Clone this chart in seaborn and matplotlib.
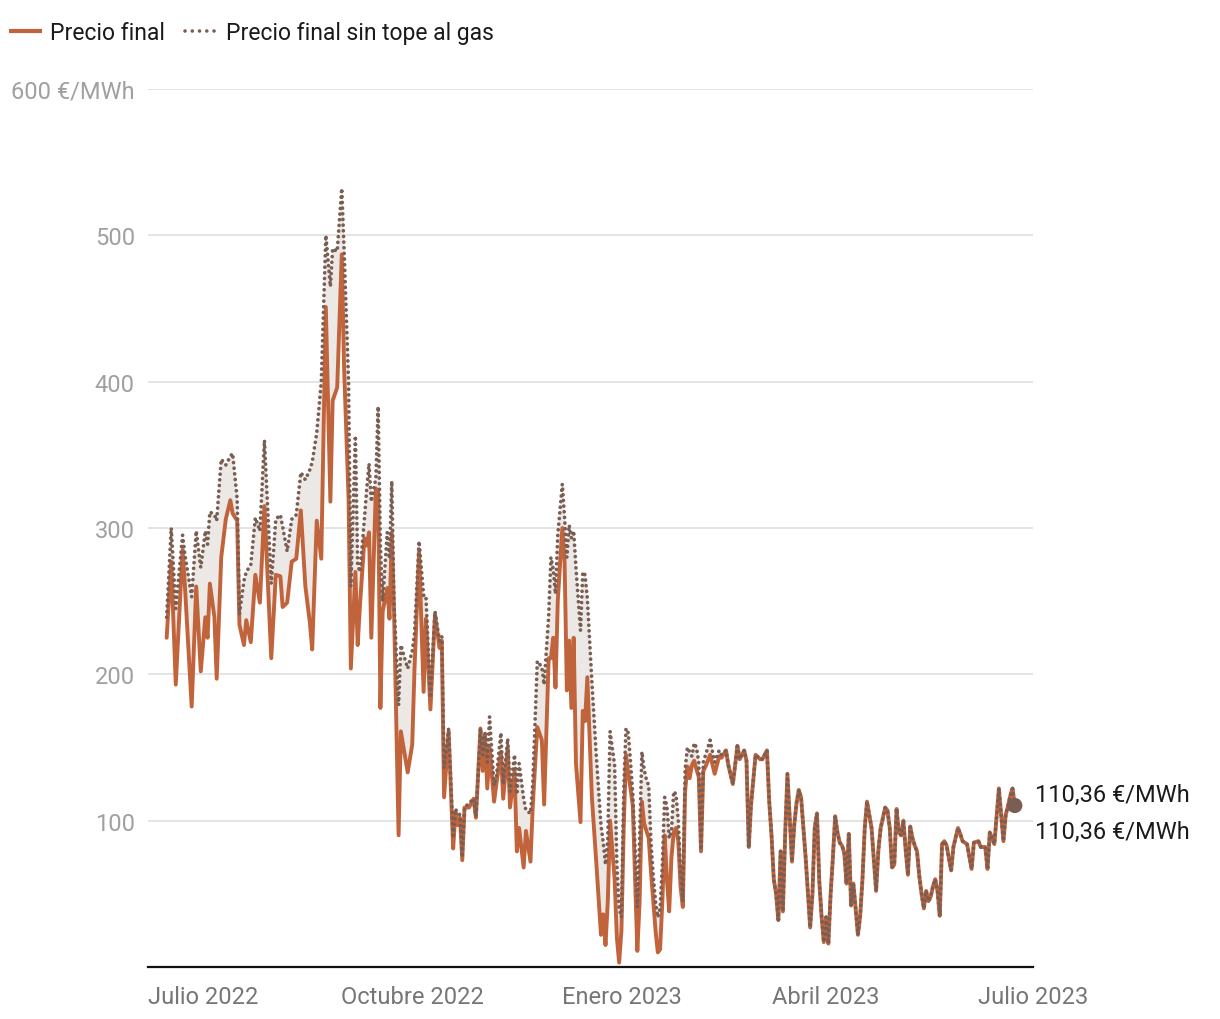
import pandas as pd
import matplotlib.pyplot as plt
import seaborn as sns
from matplotlib.lines import Line2D

# Fechas de cada punto (precio diario)
fechas = [
    # jun 2022
    "2022-06-15", "2022-06-17", "2022-06-19", "2022-06-22", "2022-06-23", "2022-06-26", "2022-06-28", "2022-06-30",
    # jul 2022
    "2022-07-02", "2022-07-03", "2022-07-04", "2022-07-06", "2022-07-07", "2022-07-09", "2022-07-11", "2022-07-13",
    "2022-07-14", "2022-07-16", "2022-07-17", "2022-07-19", "2022-07-20", "2022-07-22", "2022-07-24", "2022-07-26",
    "2022-07-28", "2022-07-31",
    # ago 2022
    "2022-08-02", "2022-08-04", "2022-08-05", "2022-08-07", "2022-08-09", "2022-08-11", "2022-08-13", "2022-08-15",
    "2022-08-17", "2022-08-18", "2022-08-20", "2022-08-22", "2022-08-24", "2022-08-26", "2022-08-27", "2022-08-29",
    "2022-08-31",
    # sep 2022
    "2022-09-01", "2022-09-03", "2022-09-04", "2022-09-06", "2022-09-07", "2022-09-08", "2022-09-10", "2022-09-11",
    "2022-09-12", "2022-09-13", "2022-09-15", "2022-09-16", "2022-09-17", "2022-09-18", "2022-09-20", "2022-09-21",
    "2022-09-22", "2022-09-23", "2022-09-25", "2022-09-26", "2022-09-29",
    # oct 2022
    "2022-10-01", "2022-10-02", "2022-10-04", "2022-10-06", "2022-10-07", "2022-10-09", "2022-10-11", "2022-10-13",
    "2022-10-14", "2022-10-15", "2022-10-17", "2022-10-19", "2022-10-20", "2022-10-21", "2022-10-22", "2022-10-23",
    "2022-10-24", "2022-10-26", "2022-10-28", "2022-10-29", "2022-10-31",
    # nov 2022
    "2022-11-01", "2022-11-02", "2022-11-03", "2022-11-04", "2022-11-06", "2022-11-07", "2022-11-09", "2022-11-10",
    "2022-11-12", "2022-11-13", "2022-11-15", "2022-11-16", "2022-11-17", "2022-11-19", "2022-11-20", "2022-11-22",
    "2022-11-23", "2022-11-25", "2022-11-27", "2022-11-28", "2022-11-30",
    # dic 2022
    "2022-12-01", "2022-12-02", "2022-12-03", "2022-12-04", "2022-12-06", "2022-12-07", "2022-12-08", "2022-12-09",
    "2022-12-10", "2022-12-11", "2022-12-12", "2022-12-14", "2022-12-15", "2022-12-16", "2022-12-17", "2022-12-19",
    "2022-12-21", "2022-12-23", "2022-12-24", "2022-12-25", "2022-12-26", "2022-12-27", "2022-12-29", "2022-12-30",
    "2022-12-31",
    # ene 2023
    "2023-01-01", "2023-01-02", "2023-01-03", "2023-01-04", "2023-01-05", "2023-01-06", "2023-01-07", "2023-01-08",
    "2023-01-09", "2023-01-10", "2023-01-11", "2023-01-12", "2023-01-13", "2023-01-14", "2023-01-15", "2023-01-16",
    "2023-01-17", "2023-01-18", "2023-01-19", "2023-01-20", "2023-01-21", "2023-01-22", "2023-01-23", "2023-01-24",
    "2023-01-25", "2023-01-26", "2023-01-27", "2023-01-28", "2023-01-29", "2023-01-30", "2023-01-31",
    # feb 2023
    "2023-02-01", "2023-02-02", "2023-02-03", "2023-02-04", "2023-02-05", "2023-02-06", "2023-02-07", "2023-02-09",
    "2023-02-11", "2023-02-13", "2023-02-14", "2023-02-16", "2023-02-17", "2023-02-19", "2023-02-21", "2023-02-22",
    "2023-02-24", "2023-02-25", "2023-02-26", "2023-02-27",
    # mar 2023
    "2023-03-01", "2023-03-03", "2023-03-04", "2023-03-06", "2023-03-07", "2023-03-08", "2023-03-09", "2023-03-10",
    "2023-03-11", "2023-03-12", "2023-03-13", "2023-03-14", "2023-03-15", "2023-03-17", "2023-03-18", "2023-03-19",
    "2023-03-20", "2023-03-21", "2023-03-23", "2023-03-25", "2023-03-26", "2023-03-27", "2023-03-28", "2023-03-29",
    "2023-03-30", "2023-03-31",
    # abr 2023
    "2023-04-01", "2023-04-02", "2023-04-03", "2023-04-04", "2023-04-05", "2023-04-06", "2023-04-07", "2023-04-08",
    "2023-04-09", "2023-04-10", "2023-04-11", "2023-04-12", "2023-04-13", "2023-04-14", "2023-04-15", "2023-04-16",
    "2023-04-17", "2023-04-18", "2023-04-19", "2023-04-20", "2023-04-21", "2023-04-23", "2023-04-24", "2023-04-25",
    "2023-04-27", "2023-04-28", "2023-04-29", "2023-04-30",
    # may 2023
    "2023-05-01", "2023-05-02", "2023-05-03", "2023-05-04", "2023-05-05", "2023-05-06", "2023-05-07", "2023-05-08",
    "2023-05-09", "2023-05-10", "2023-05-11", "2023-05-12", "2023-05-13", "2023-05-14", "2023-05-15", "2023-05-16",
    "2023-05-17", "2023-05-18", "2023-05-19", "2023-05-20", "2023-05-21", "2023-05-22", "2023-05-23", "2023-05-24",
    "2023-05-26", "2023-05-27", "2023-05-29", "2023-05-30", "2023-05-31",
    # jun 2023
    "2023-06-02", "2023-06-04", "2023-06-05", "2023-06-07", "2023-06-08", "2023-06-10", "2023-06-11", "2023-06-12",
    "2023-06-13", "2023-06-14", "2023-06-16", "2023-06-18", "2023-06-19", "2023-06-20", "2023-06-21", "2023-06-22",
    "2023-06-23",
]

# Precio final (€/MWh)
precio_final = [
    225, 277, 193, 285, 261, 178, 260, 202,
    239, 225, 262, 239, 197, 280, 306, 319, 310, 305, 234, 220, 237, 222, 268, 249, 315, 211,
    268, 267, 246, 249, 277, 279, 312, 260, 235, 217, 305, 279, 451, 318, 387, 396, 487,
    411, 320, 204, 270, 220, 247, 293, 288, 297, 225, 327, 325, 177, 243, 259, 238, 297, 243, 90, 161, 133,
    152, 204, 284, 188, 238, 176, 241, 218, 223, 116, 161, 81, 106, 97, 102, 73, 109, 109, 115, 102, 163,
    134, 159, 122, 150, 113, 125, 147, 115, 150, 109, 134, 79, 95, 68, 93, 72, 110, 164, 155, 111, 211,
    211, 225, 191, 250, 300, 277, 189, 223, 177, 225, 139, 99, 175, 168, 198, 116, 70, 22, 36, 15, 45, 100, 60, 20, 3,
    25, 95, 145, 132, 122, 110, 60, 11, 45, 113, 98, 93, 88, 65, 45, 25, 10, 12, 45, 90, 60, 38, 75, 92, 95, 86,
    55, 41, 120, 137, 129,
    138, 141, 135, 130, 79, 134, 137, 145, 132, 144, 143, 148, 138, 125, 151, 142, 148, 141, 82, 111,
    145, 142, 142, 148, 113, 90, 60, 50, 32, 79, 38, 90, 132, 72, 97, 112, 121, 116, 75, 27, 50, 95, 105, 59, 35, 17,
    34, 16, 50, 75, 103, 92, 85, 83, 78, 57, 91, 42, 57, 40, 22, 35, 60, 95, 113, 104, 95, 52, 80, 95, 109, 107,
    95, 68,
    70, 108, 92, 90, 100, 80, 63, 96, 88, 83, 79, 62, 50, 40, 52, 45, 48, 55, 60, 52, 35, 84, 86, 83, 66, 82, 95,
    91, 86,
    84, 67, 85, 86, 82, 82, 67, 92, 88, 84, 122, 86, 104, 110, 117, 122, 110.36,
]

# Precio final sin tope al gas (€/MWh)
precio_sin_tope = [
    239, 300, 245, 295, 282, 253, 298, 273,
    298, 289, 311, 309, 305, 347, 343, 349, 351, 320, 241, 264, 270, 275, 307, 298, 360, 262,
    306, 309, 301, 284, 306, 309, 338, 333, 340, 345, 365, 400, 500, 465, 491, 489, 532,
    491, 400, 260, 363, 275, 270, 307, 327, 344, 318, 334, 383, 288, 250, 297, 279, 332, 248, 179, 220, 204,
    216, 228, 291, 254, 254, 184, 243, 223, 226, 136, 163, 88, 108, 105, 104, 75, 109, 112, 115, 103, 163,
    145, 160, 140, 171, 124, 130, 160, 125, 156, 120, 145, 118, 139, 115, 107, 105, 125, 209, 205, 193, 240,
    280, 272, 255, 295, 330, 307, 280, 302, 293, 298, 273, 230, 270, 268, 252, 195, 143, 97, 85, 70, 88, 161, 138,
    70, 40,
    34, 120, 163, 160, 140, 118, 82, 41, 88, 147, 135, 128, 124, 85, 62, 45, 34, 40, 70, 116, 110, 88, 93, 120,
    118, 100, 65, 45, 135, 150, 147,
    144, 153, 150, 140, 80, 140, 145, 155, 140, 148, 145, 148, 138, 125, 151, 142, 148, 141, 82, 111,
    145, 142, 142, 148, 113, 90, 60, 50, 32, 79, 38, 90, 132, 72, 97, 112, 121, 116, 75, 27, 50, 95, 105, 59, 35, 17,
    34, 16, 50, 75, 103, 92, 85, 83, 78, 57, 91, 42, 57, 40, 22, 35, 60, 95, 113, 104, 95, 52, 80, 95, 109, 107,
    95, 68,
    70, 108, 92, 90, 100, 80, 63, 96, 88, 83, 79, 62, 50, 40, 52, 45, 48, 55, 60, 52, 35, 84, 86, 83, 66, 82, 95,
    91, 86,
    84, 67, 85, 86, 82, 82, 67, 92, 88, 84, 122, 86, 104, 110, 117, 122, 110.36,
]

ticks_x = ["2022-07-01", "2022-10-01", "2023-01-01", "2023-04-01", "2023-07-01"]
etiquetas_x = ["Julio 2022", "Octubre 2022", "Enero 2023", "Abril 2023", "Julio 2023"]
ticks_y = [100, 200, 300, 400, 500, 600]
etiquetas_y = ["100", "200", "300", "400", "500", "600 €/MWh"]
etiqueta_final = "110,36 €/MWh"

COLOR_FINAL = "#c1633b"
COLOR_SIN_TOPE = "#7a5e53"
COLOR_RELLENO = "#ece8e5"
FS = 17

df = pd.DataFrame({
    "fecha": pd.to_datetime(fechas),
    "final": precio_final,
    "sin_tope": precio_sin_tope,
})

sns.set_theme(style="white")
plt.rcParams["font.family"] = ["Roboto", "DejaVu Sans"]

W, H = 1220, 1020
fig = plt.figure(figsize=(W / 100, H / 100), dpi=100)
ax = fig.add_axes([148 / W, 1 - 968 / H, (1033 - 148) / W, (968 - 90) / H])

# zona entre las dos series
ax.fill_between(df["fecha"], df["final"], df["sin_tope"], color=COLOR_RELLENO, linewidth=0, zorder=1)

sns.lineplot(data=df, x="fecha", y="final", ax=ax, color=COLOR_FINAL, linewidth=2.8,
             estimator=None, zorder=3)
sns.lineplot(data=df, x="fecha", y="sin_tope", ax=ax, color=COLOR_SIN_TOPE, linewidth=2.7,
             linestyle=(0, (0.01, 1.5)), dash_capstyle="round", estimator=None, zorder=4)

# punto final
ultimo = df.iloc[-1]
sns.scatterplot(x=[ultimo["fecha"]], y=[ultimo["sin_tope"]], ax=ax, color=COLOR_SIN_TOPE,
                s=120, edgecolor="none", zorder=5)
for dy in (11, -26):
    ax.annotate(etiqueta_final, xy=(ultimo["fecha"], ultimo["final"]), xytext=(20, dy),
                textcoords="offset pixels", ha="left", va="center", fontsize=FS,
                color="#1a1a1a", annotation_clip=False)

ax.set_xlim(pd.Timestamp("2022-06-06 19:00"), pd.Timestamp("2023-07-01"))
ax.set_ylim(0, 600)
ax.set_xticks(pd.to_datetime(ticks_x), etiquetas_x)
ax.set_yticks(ticks_y, etiquetas_y)
ax.tick_params(axis="x", length=0, pad=13, labelsize=FS, labelcolor="#767676")
ax.tick_params(axis="y", length=0, pad=9.5, labelsize=FS, labelcolor="#a0a0a0")
ax.set_xlabel("")
ax.set_ylabel("")

ax.grid(axis="y", color="#e2e2e2", linewidth=1.3)
ax.grid(axis="x", visible=False)
for lado in ("top", "right", "left"):
    ax.spines[lado].set_visible(False)
ax.spines["bottom"].set_color("#111111")
ax.spines["bottom"].set_linewidth(1.6)
ax.spines["bottom"].set_zorder(6)

# leyenda
handles = [
    Line2D([], [], color=COLOR_FINAL, linewidth=3.0, solid_capstyle="butt"),
    Line2D([], [], color=COLOR_SIN_TOPE, linewidth=2.6, linestyle=(0, (0.01, 2.0)), dash_capstyle="round"),
]
fig.legend(handles, ["Precio final", "Precio final sin tope al gas"], loc="upper left",
           bbox_to_anchor=(9 / W, 1 - 22 / H), ncol=2, frameon=False, fontsize=16.5,
           handlelength=1.45, handletextpad=0.35, columnspacing=0.85, borderpad=0,
           borderaxespad=0, labelcolor="#1a1a1a")

fig.savefig("out.png", dpi=100)
